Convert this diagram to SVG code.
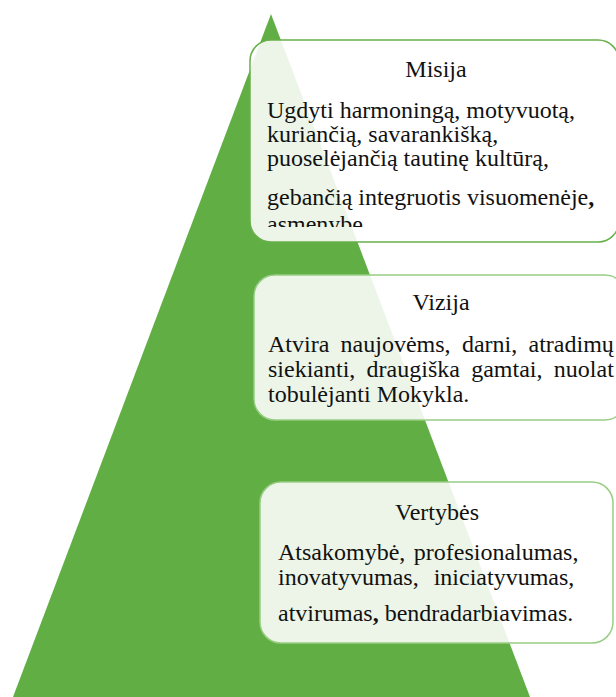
<svg xmlns="http://www.w3.org/2000/svg" width="616" height="697" viewBox="0 0 616 697">
  <defs>
    <style>
      .box { fill: #ffffff; fill-opacity: 0.88; stroke-width: 1.5; }
      .t { font-family: "Liberation Serif", "Times New Roman", serif; font-size: 24px; fill: #111111; }
      .c { text-anchor: middle; }
    </style>
    <clipPath id="clipMisija">
      <rect x="250" y="40" width="370" height="187"/>
    </clipPath>
  </defs>
  <rect x="0" y="0" width="616" height="697" fill="#ffffff"/>
  <g id="pyramid">
    <polygon points="271,14 13,697 530,697" fill="#61AE45"/>
  </g>
  <g id="connectors"></g>
  <g id="misija">
    <rect class="box" x="250" y="40" width="369" height="202" rx="21" ry="21" stroke="#68B04A"/>
    <text class="t c" x="436" y="77">Misija</text>
    <g clip-path="url(#clipMisija)">
      <text class="t" x="267" y="118">Ugdyti harmoningą, motyvuotą,</text>
      <text class="t" x="267" y="142">kuriančią, savarankišką,</text>
      <text class="t" x="267" y="166">puoselėjančią tautinę kultūrą,</text>
      <text class="t" x="267" y="205">gebančią integruotis visuomenėje<tspan font-weight="bold">,</tspan></text>
      <text class="t" x="267" y="232">asmenybę.</text>
    </g>
  </g>
  <g id="vizija">
    <rect class="box" x="254" y="275" width="372" height="145" rx="21" ry="21" stroke="#98CD84"/>
    <text class="t c" x="441" y="310">Vizija</text>
    <text class="t" x="268" y="352" word-spacing="5.3">Atvira naujovėms, darni, atradimų</text>
    <text class="t" x="268" y="377" word-spacing="5.3">siekianti, draugiška gamtai, nuolat</text>
    <text class="t" x="268" y="402">tobulėjanti Mokykla.</text>
  </g>
  <g id="vertybes">
    <rect class="box" x="260" y="482" width="353" height="161" rx="21" ry="21" stroke="#98CD84"/>
    <text class="t c" x="437" y="520">Vertybės</text>
    <text class="t" x="278" y="560" word-spacing="2.5">Atsakomybė, profesionalumas,</text>
    <text class="t" x="278" y="585" word-spacing="9">inovatyvumas, iniciatyvumas,</text>
    <text class="t" x="278" y="621">atvirumas<tspan font-weight="bold">,</tspan> bendradarbiavimas.</text>
  </g>
</svg>
